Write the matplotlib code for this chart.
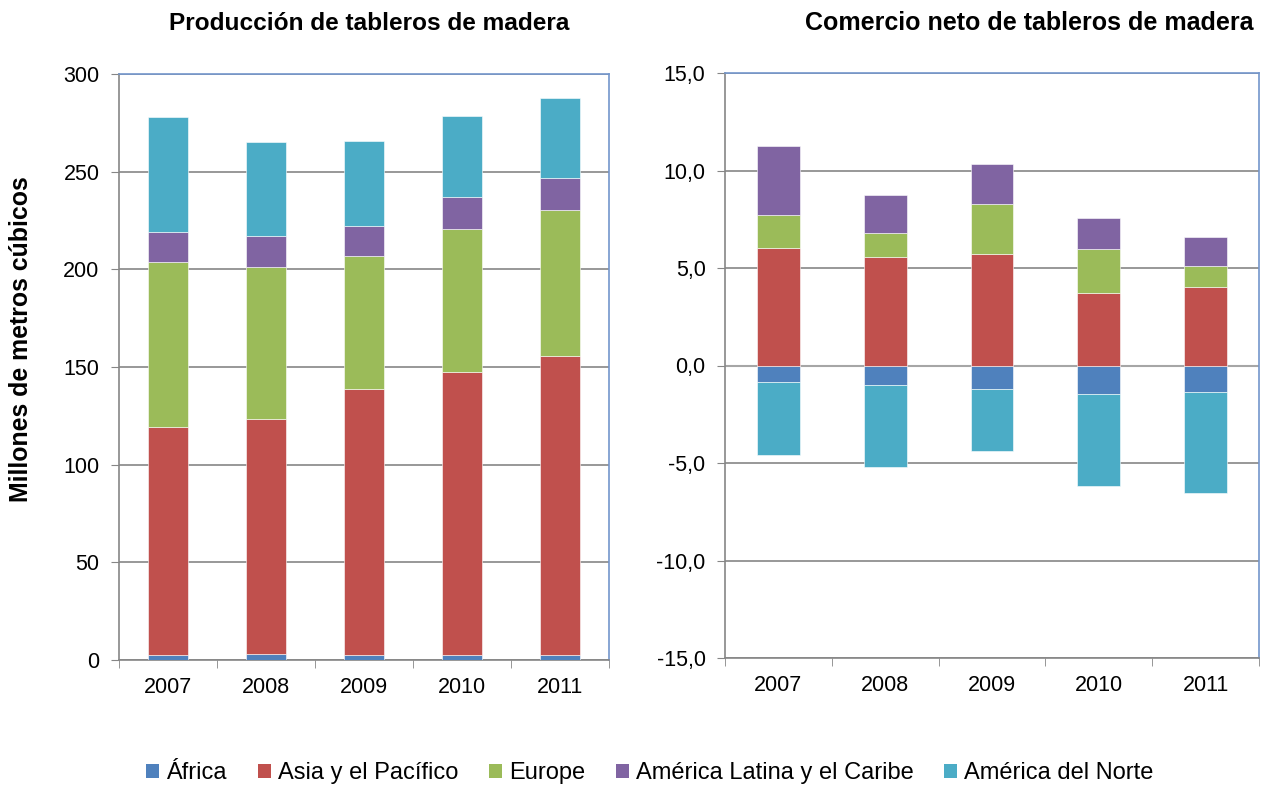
import numpy as np
import matplotlib
matplotlib.use("Agg")
import matplotlib.pyplot as plt
from matplotlib.ticker import FuncFormatter, FixedLocator
from matplotlib.patches import Patch

plt.rcParams['font.family'] = ['Liberation Sans', 'DejaVu Sans']

years = ["2007", "2008", "2009", "2010", "2011"]
regions = ["África", "Asia y el Pacífico", "Europe",
           "América Latina y el Caribe", "América del Norte"]
colors = ["#4F81BD", "#C0504D", "#9BBB59", "#8064A2", "#4BACC6"]

# production, million m3
prod_africa = [2.6, 2.9, 2.5, 2.5, 2.5]
prod_asia = [116.7, 120.5, 136.3, 145.0, 153.2]
prod_europe = [84.7, 77.8, 68.1, 73.2, 74.6]
prod_latam = [15.3, 16.1, 15.2, 16.5, 16.3]
prod_namerica = [58.7, 47.8, 43.5, 41.2, 41.0]

# net trade, million m3
trade_africa = [-0.85, -1.00, -1.21, -1.45, -1.37]
trade_asia = [6.05, 5.54, 5.74, 3.74, 4.05]
trade_europe = [1.69, 1.27, 2.54, 2.24, 1.05]
trade_latam = [3.51, 1.94, 2.03, 1.58, 1.48]
trade_namerica = [-3.75, -4.23, -3.18, -4.75, -5.17]

production = [prod_africa, prod_asia, prod_europe, prod_latam, prod_namerica]
trade = [trade_africa, trade_asia, trade_europe, trade_latam, trade_namerica]

GRID = "#868686"
BORDER = "#7396cc"
FS = 15.5

fig = plt.figure(figsize=(12.66, 7.87), dpi=100)
W, H = 1266, 787
ax1 = fig.add_axes([119 / W, 1 - 660 / H, 490 / W, 586 / H])
ax2 = fig.add_axes([725 / W, 1 - 658 / H, 534 / W, 585 / H])

x = np.arange(len(years))


def stacked(ax, series):
    pos = np.zeros(len(years))
    neg = np.zeros(len(years))
    for vals, c in zip(series, colors):
        vals = np.array(vals)
        base = np.where(vals >= 0, pos, neg)
        ax.bar(x, vals, 0.4, bottom=base, color=c, edgecolor="#ffffff",
               linewidth=0.4, zorder=3)
        pos = pos + np.where(vals >= 0, vals, 0)
        neg = neg + np.where(vals < 0, vals, 0)


def style(ax):
    ax.set_xlim(-0.5, len(years) - 0.5)
    ax.set_xticks(x)
    ax.set_xticklabels(years, fontsize=FS)
    ax.xaxis.set_minor_locator(FixedLocator(np.arange(-0.5, len(years), 1)))
    ax.tick_params(axis="x", which="major", length=0, pad=12)
    ax.tick_params(axis="x", which="minor", length=6, color=GRID, direction="out")
    ax.tick_params(axis="y", length=6, color=GRID, labelsize=FS, pad=8)
    ax.yaxis.grid(True, color=GRID, linewidth=1.2, zorder=0)
    ax.set_axisbelow(True)
    for s in ["left", "bottom"]:
        ax.spines[s].set_color(GRID)
        ax.spines[s].set_linewidth(1.2)
    for s in ["top", "right"]:
        ax.spines[s].set_color(BORDER)
        ax.spines[s].set_linewidth(1.2)


stacked(ax1, production)
style(ax1)
ax1.set_ylim(0, 300)
ax1.set_yticks(range(0, 301, 50))

stacked(ax2, trade)
style(ax2)
ax2.set_ylim(-15, 15)
ax2.set_yticks(range(-15, 16, 5))
ax2.yaxis.set_major_formatter(FuncFormatter(lambda v, p: f"{v:.1f}".replace(".", ",")))
ax2.axhline(0, color="#a6a6a6", linewidth=1.5, zorder=2)

fig.text(369 / W, 1 - 23 / H, "Producción de tableros de madera",
         ha="center", va="center", fontsize=17.6, fontweight="bold")
fig.text(1029 / W, 1 - 23 / H, "Comercio neto de tableros de madera",
         ha="center", va="center", fontsize=18, fontweight="bold")
fig.text(21 / W, 1 - 339 / H, "Millones de metros cúbicos", rotation=90,
         ha="center", va="center", fontsize=17.9, fontweight="bold")

handles = [Patch(facecolor=c, edgecolor="none") for c in colors]
fig.legend(handles, regions, loc="center", bbox_to_anchor=(650 / W, 1 - 773 / H),
           ncol=5, frameon=False, fontsize=17, handlelength=0.55, handleheight=0.55,
           handletextpad=0.3, columnspacing=1.3)

fig.savefig("out.png", dpi=100)
